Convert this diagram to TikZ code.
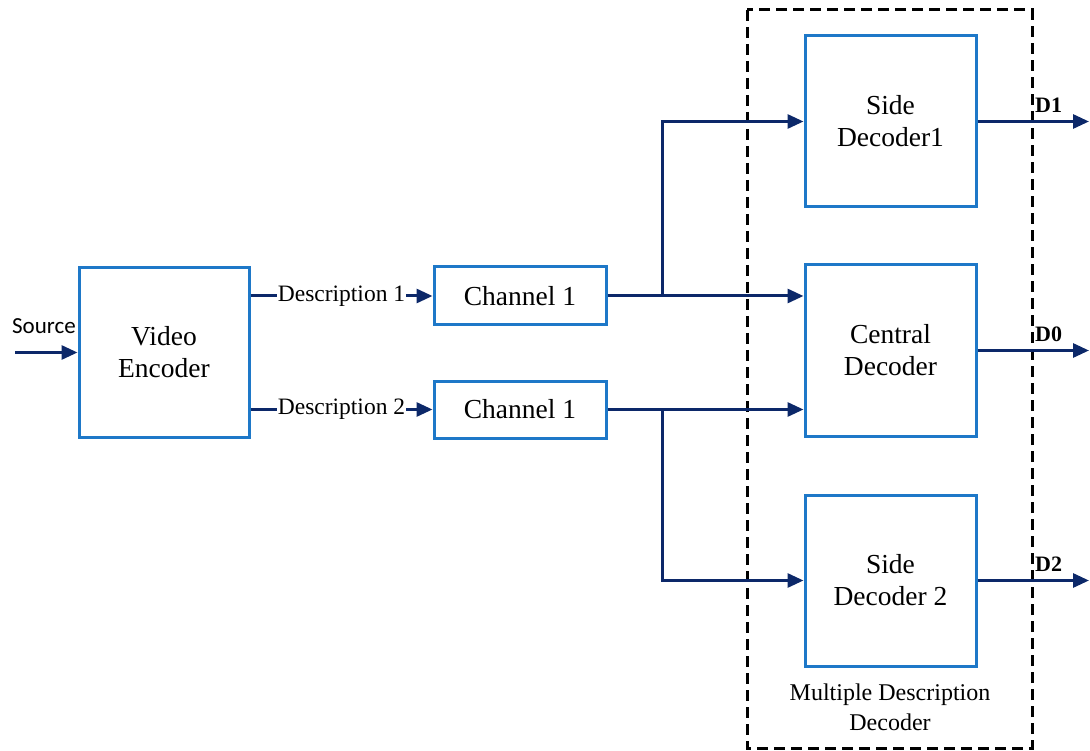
\documentclass[tikz,border=0pt]{standalone}
\usepackage{fontspec}
\setmainfont{Liberation Serif}
\newfontfamily\labelsans{Carlito}
\usetikzlibrary{arrows.meta}
\definecolor{boxblue}{RGB}{30,120,200}
\definecolor{wirenavy}{RGB}{12,40,105}
\tikzset{
  block/.style={draw=boxblue, line width=3pt, fill=white, align=center,
    font=\fontsize{27.5}{32}\selectfont, inner sep=0pt},
  wire/.style={draw=wirenavy, line width=3pt},
  arrowwire/.style={wire, -{Triangle[length=16pt,width=14pt]}},
  desclabel/.style={fill=white, inner sep=0.5pt, font=\fontsize{23.5}{26}\selectfont},
  outlabel/.style={font=\bfseries\fontsize{22}{24}\selectfont, inner sep=0pt},
}
\begin{document}
\begin{tikzpicture}[x=1pt,y=-1pt]
\useasboundingbox (0,0) rectangle (1090,751);

% group frame of the decoder
\draw[line width=3pt, dash pattern=on 11pt off 6pt] (747,10) rectangle (1032,748);
\node[align=center, font=\fontsize{24}{30}\selectfont] (mdlabel) at (890,707)
  {Multiple Description\\Decoder};

% blocks
\node[block, minimum width=170pt, minimum height=169pt] (enc) at (164,352.5) {Video\\Encoder};
\node[block, minimum width=172pt, minimum height=58pt] (ch1) at (520,296) {Channel 1};
\node[block, minimum width=172pt, minimum height=57pt] (ch2) at (520,409.5) {Channel 1};
\node[block, minimum width=171pt, minimum height=171pt] (sd1) at (890.5,121.5) {Side\\Decoder1};
\node[block, minimum width=171pt, minimum height=171pt] (cd) at (890.5,350.5) {Central\\Decoder};
\node[block, minimum width=171pt, minimum height=171pt] (sd2) at (890.5,580.5) {Side\\Decoder 2};

% source input
\coordinate (src) at (15,352.5);
\draw[arrowwire] (src) -- (enc.west);
\node[font=\labelsans\fontsize{23}{26}\selectfont] (srclabel) at (44,326) {Source};

% encoder to channels
\draw[arrowwire] (enc.east |- ch1.west) -- node[desclabel] (d1) {Description 1} (ch1.west);
\draw[arrowwire] (enc.east |- ch2.west) -- node[desclabel] (d2) {Description 2} (ch2.west);

% channels to decoders
\coordinate (bra) at (662,296);
\coordinate (brb) at (662,409.5);
\draw[arrowwire] (ch1.east) -- (ch1.east -| cd.west);
\draw[arrowwire] (bra) |- (sd1.west);
\draw[arrowwire] (ch2.east) -- (ch2.east -| cd.west);
\draw[arrowwire] (brb) |- (sd2.west);

% decoder outputs
\coordinate (o1) at (1089,121.5);
\coordinate (o0) at (1089,350.5);
\coordinate (o2) at (1089,580.5);
\draw[arrowwire] (sd1.east) -- (o1);
\draw[arrowwire] (cd.east) -- (o0);
\draw[arrowwire] (sd2.east) -- (o2);
\node[outlabel, anchor=south west] (l1) at (1035,113) {D1};
\node[outlabel, anchor=south west] (l0) at (1035,342) {D0};
\node[outlabel, anchor=south west] (l2) at (1035,572) {D2};
\end{tikzpicture}
\end{document}
